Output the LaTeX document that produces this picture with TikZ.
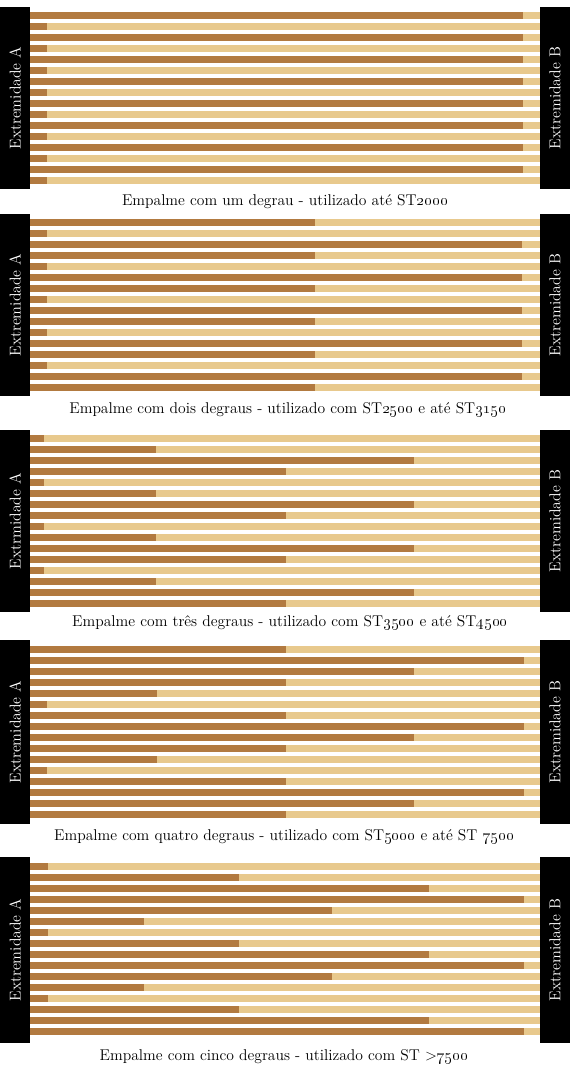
\documentclass[tikz,border=0pt]{standalone}
\usepackage{xcolor}
\definecolor{darkwood}{HTML}{B27A40}
\definecolor{lightwood}{HTML}{E8C98D}
\newcommand\splicepanel[6]{%
  % #1 first stripe top, #2 box top, #3 box bottom, #4 dark ends, #5 panel id, #6 label A text
  \fill[black] (0,#2) rectangle (30,#3);
  \fill[black] (540,#2) rectangle (570,#3);
  \foreach \d [count=\i from 0] in {#4} {
    \fill[lightwood] (30,{#1+11*\i}) rectangle (540,{#1+11*\i+7});
    \fill[darkwood] (30,{#1+11*\i}) rectangle (\d,{#1+11*\i+7});
  }
  \node[endlabel] (endA#5) at (15,{(#2+#3)/2}) {#6};
  \node[endlabel] (endB#5) at (555,{(#2+#3)/2}) {Extremidade B};
}
\begin{document}
\begin{tikzpicture}[x=0.75pt,y=-0.75pt,
  endlabel/.style={rotate=90,text=white,inner sep=0pt,font=\fontsize{11.8}{13}\selectfont},
  captiontext/.style={anchor=base,inner sep=0pt,font=\fontsize{11.7}{13}\selectfont}]
\fill[white] (0,0) rectangle (570,1075);
\path[use as bounding box] (0,0) rectangle (570,1075);

\splicepanel{12}{7}{189}{523,47,523,47,523,47,523,47,523,47,523,47,523,47,523,47}{1}{Extremidade A}
\node[captiontext] (cap1) at (285,205) {Empalme com um degrau - utilizado até ST\oldstylenums{2000}};

\splicepanel{219}{214}{396}{315,47,522,315,47,522,315,47,522,315,47,522,315,47,522,315}{2}{Extremidade A}
\node[captiontext] (cap2) at (288,413) {Empalme com dois degraus - utilizado com ST\oldstylenums{2500} e até ST\oldstylenums{3150}};

\splicepanel{435}{430}{612}{44,156,414,286,44,156,414,286,44,156,414,286,44,156,414,286}{3}{Extrmidade A}
\node[captiontext] (cap3) at (290,626) {Empalme com três degraus - utilizado com ST\oldstylenums{3500} e até ST\oldstylenums{4500}};

\splicepanel{646}{640}{824}{286,524,414,286,157,47,286,524,414,286,157,47,286,524,414,286}{4}{Extremidade A}
\node[captiontext] (cap4) at (284,840) {Empalme com quatro degraus - utilizado com ST\oldstylenums{5000} e até ST \oldstylenums{7500}};

\splicepanel{863}{857}{1043}{48,239,429,524,332,144,48,239,429,524,332,144,48,239,429,524}{5}{Extremidade A}
\node[captiontext] (cap5) at (284,1060) {Empalme com cinco degraus - utilizado com ST >\oldstylenums{7500}};
\end{tikzpicture}
\end{document}
